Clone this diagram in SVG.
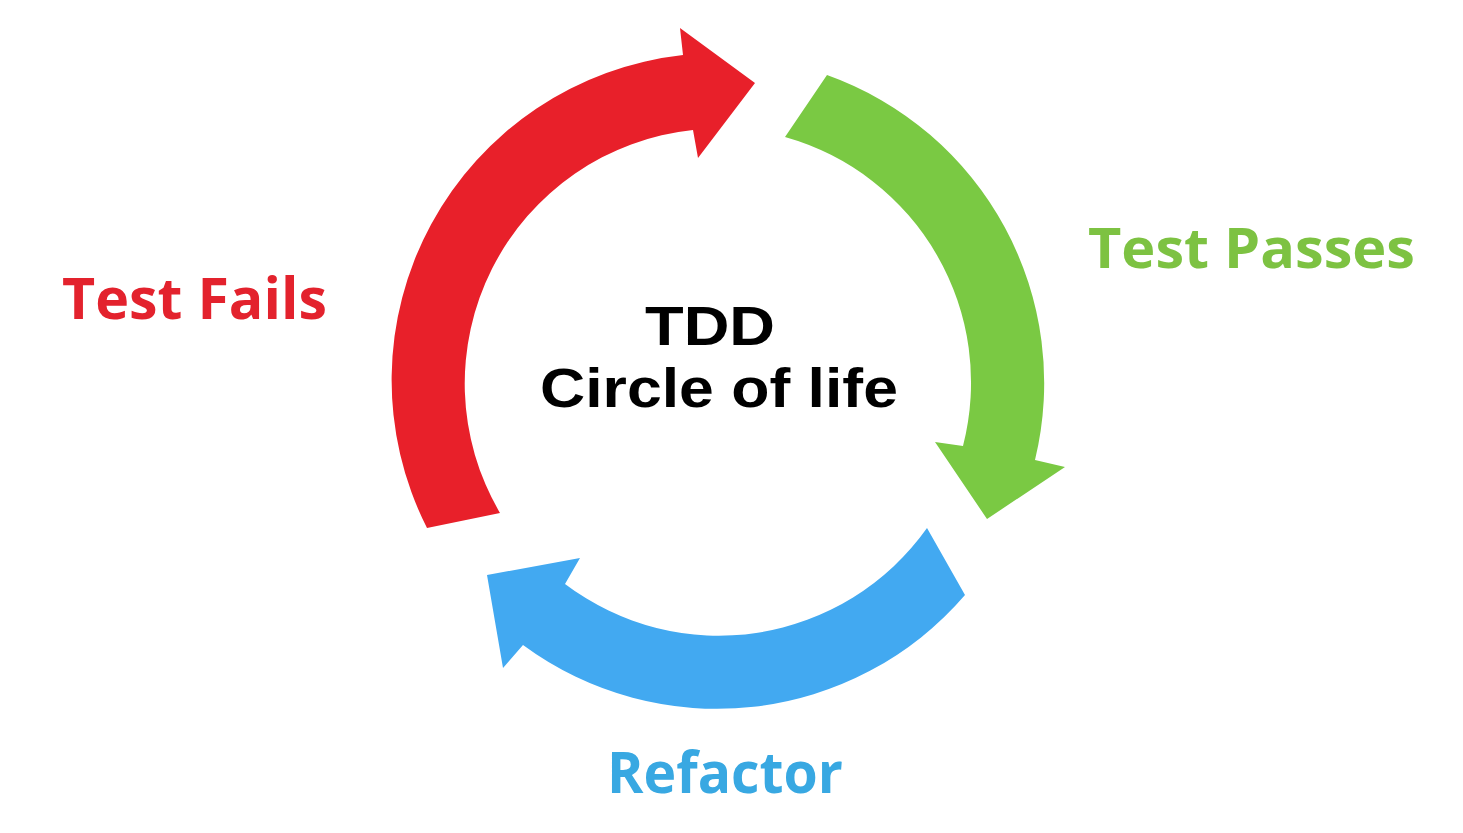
<svg xmlns="http://www.w3.org/2000/svg" width="1463" height="833" viewBox="0 0 1463 833">
  <style>
    .lbl { font-family: "Open Sans", "Liberation Sans", sans-serif; font-weight: 700; }
    .ctr { font-family: "Liberation Sans", Arial, sans-serif; font-weight: 700; }
    .red { fill: #E8202A; }
    .green { fill: #7AC943; }
    .blue { fill: #42A9F1; }
    .tred { fill: #E3222D; }
    .tgreen { fill: #7DC242; }
    .tblue { fill: #38A8E2; }
    .tblack { fill: #000000; }
  </style>
  <rect width="1463" height="833" fill="#FFFFFF"/>
  <g id="connectors">
    <path id="arrow-fail-to-pass" class="red" d="M 427,528 A 327 327 0 0 1 683,55 L 680,28 L 755,83 L 698,158 L 693,130 A 255 255 0 0 0 500,513 Z"/>
    <path id="arrow-pass-to-refactor" class="green" d="M 827,75 A 327 327 0 0 1 1035,460 L 1065,467 L 987,519 L 935,442 L 963,446 A 255 255 0 0 0 785,137 Z"/>
    <path id="arrow-refactor-to-fail" class="blue" d="M 965,595 A 327 327 0 0 1 523,645 L 503,668 L 487,575 L 580,558 L 565,584 A 255 255 0 0 0 927,528 Z"/>
  </g>
  <g id="node-center">
    <text class="ctr tblack" x="710" y="345" font-size="55" text-anchor="middle" textLength="130" lengthAdjust="spacingAndGlyphs">TDD</text>
    <text class="ctr tblack" x="540" y="407" font-size="55" textLength="358" lengthAdjust="spacingAndGlyphs">Circle of life</text>
  </g>
  <g id="node-test-fails">
    <text class="lbl tred" x="62" y="319" font-size="58" textLength="265" lengthAdjust="spacingAndGlyphs">Test Fails</text>
  </g>
  <g id="node-test-passes">
    <text class="lbl tgreen" x="1088" y="268" font-size="56" textLength="327" lengthAdjust="spacingAndGlyphs">Test Passes</text>
  </g>
  <g id="node-refactor">
    <text class="lbl tblue" x="607" y="793" font-size="57" textLength="236" lengthAdjust="spacingAndGlyphs">Refactor</text>
  </g>
</svg>
